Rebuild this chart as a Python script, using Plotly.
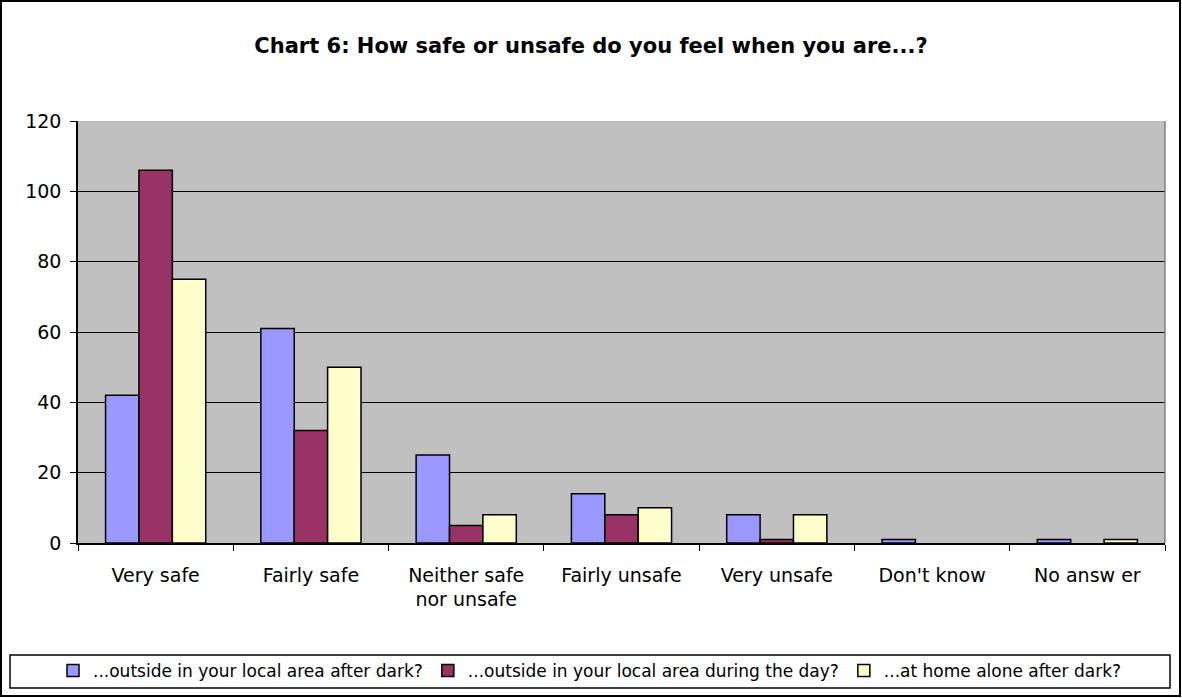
import plotly.graph_objects as go

categories = ["Very safe", "Fairly safe", "Neither safe<br>nor unsafe", "Fairly unsafe",
              "Very unsafe", "Don't know", "No answ er"]
after_dark = [42, 61, 25, 14, 8, 1, 1]
during_day = [106, 32, 5, 8, 1, 0, 0]
home_alone = [75, 50, 8, 10, 8, 0, 1]
series_names = ["...outside in your local area after dark?",
                "...outside in your local area during the day?",
                "...at home alone after dark?"]
colors = ["#9999FF", "#993366", "#FFFFCC"]
y_ticks = [0, 20, 40, 60, 80, 100, 120]

W, H = 1182, 698
L, R, T, B = 78, 1165, 121, 543
pw, ph = R - L, B - T

def px(x):
    return (x - L) / pw

def py(y):
    return (B - y) / ph

FONT = "DejaVu Sans, Liberation Sans, Arial, sans-serif"

fig = go.Figure()
for name, vals, c in zip(series_names, [after_dark, during_day, home_alone], colors):
    fig.add_trace(go.Bar(x=categories, y=vals, name=name,
                         marker=dict(color=c,
                                     line=dict(color="black",
                                               width=[1.5 if v > 0 else 0 for v in vals]))))

fig.update_layout(
    width=W, height=H,
    margin=dict(l=L, r=W - R, t=T, b=H - B, autoexpand=False),
    paper_bgcolor="white",
    plot_bgcolor="#C0C0C0",
    font=dict(family=FONT, size=19, color="black"),
    barmode="group", bargap=0.355, bargroupgap=0,
    title=dict(text="<b>Chart 6: How safe or unsafe do you feel when you are...?</b>",
               x=0.5, xref="container", xanchor="center",
               y=1 - 46 / H, yref="container", yanchor="middle",
               font=dict(size=21)),
    showlegend=True,
    legend=dict(orientation="h", x=(590 - L) / pw, xanchor="center",
                y=py(671), yanchor="middle", font=dict(size=17),
                bgcolor="rgba(0,0,0,0)", itemclick=False, itemwidth=30,
                tracegroupgap=0),
    xaxis=dict(type="category", tickson="boundaries", ticks="outside", ticklen=6,
               tickcolor="black", showline=True, linecolor="black", linewidth=1.5,
               showgrid=False, ticklabelstandoff=14, fixedrange=True),
    yaxis=dict(range=[0, 120], tickvals=y_ticks, ticks="outside", ticklen=6,
               tickcolor="black", showline=True, linecolor="black", linewidth=1.5,
               showgrid=True, gridcolor="black", gridwidth=1.2, zeroline=False,
               ticklabelstandoff=5, fixedrange=True),
    shapes=[
        dict(type="rect", xref="paper", yref="paper", x0=px(1), x1=px(1180),
             y0=py(696), y1=py(1), line=dict(color="black", width=2), layer="below"),
        dict(type="rect", xref="paper", yref="paper", x0=px(10), x1=px(1170),
             y0=py(688), y1=py(655), line=dict(color="black", width=1.5), layer="below"),
        dict(type="line", xref="paper", yref="paper", x0=1, x1=1, y0=0, y1=1,
             line=dict(color="#808080", width=1.5)),
    ],
)

fig.write_html("out.html", config={"displayModeBar": False},
               post_script="document.body.style.margin='0';document.body.style.overflow='hidden';")
